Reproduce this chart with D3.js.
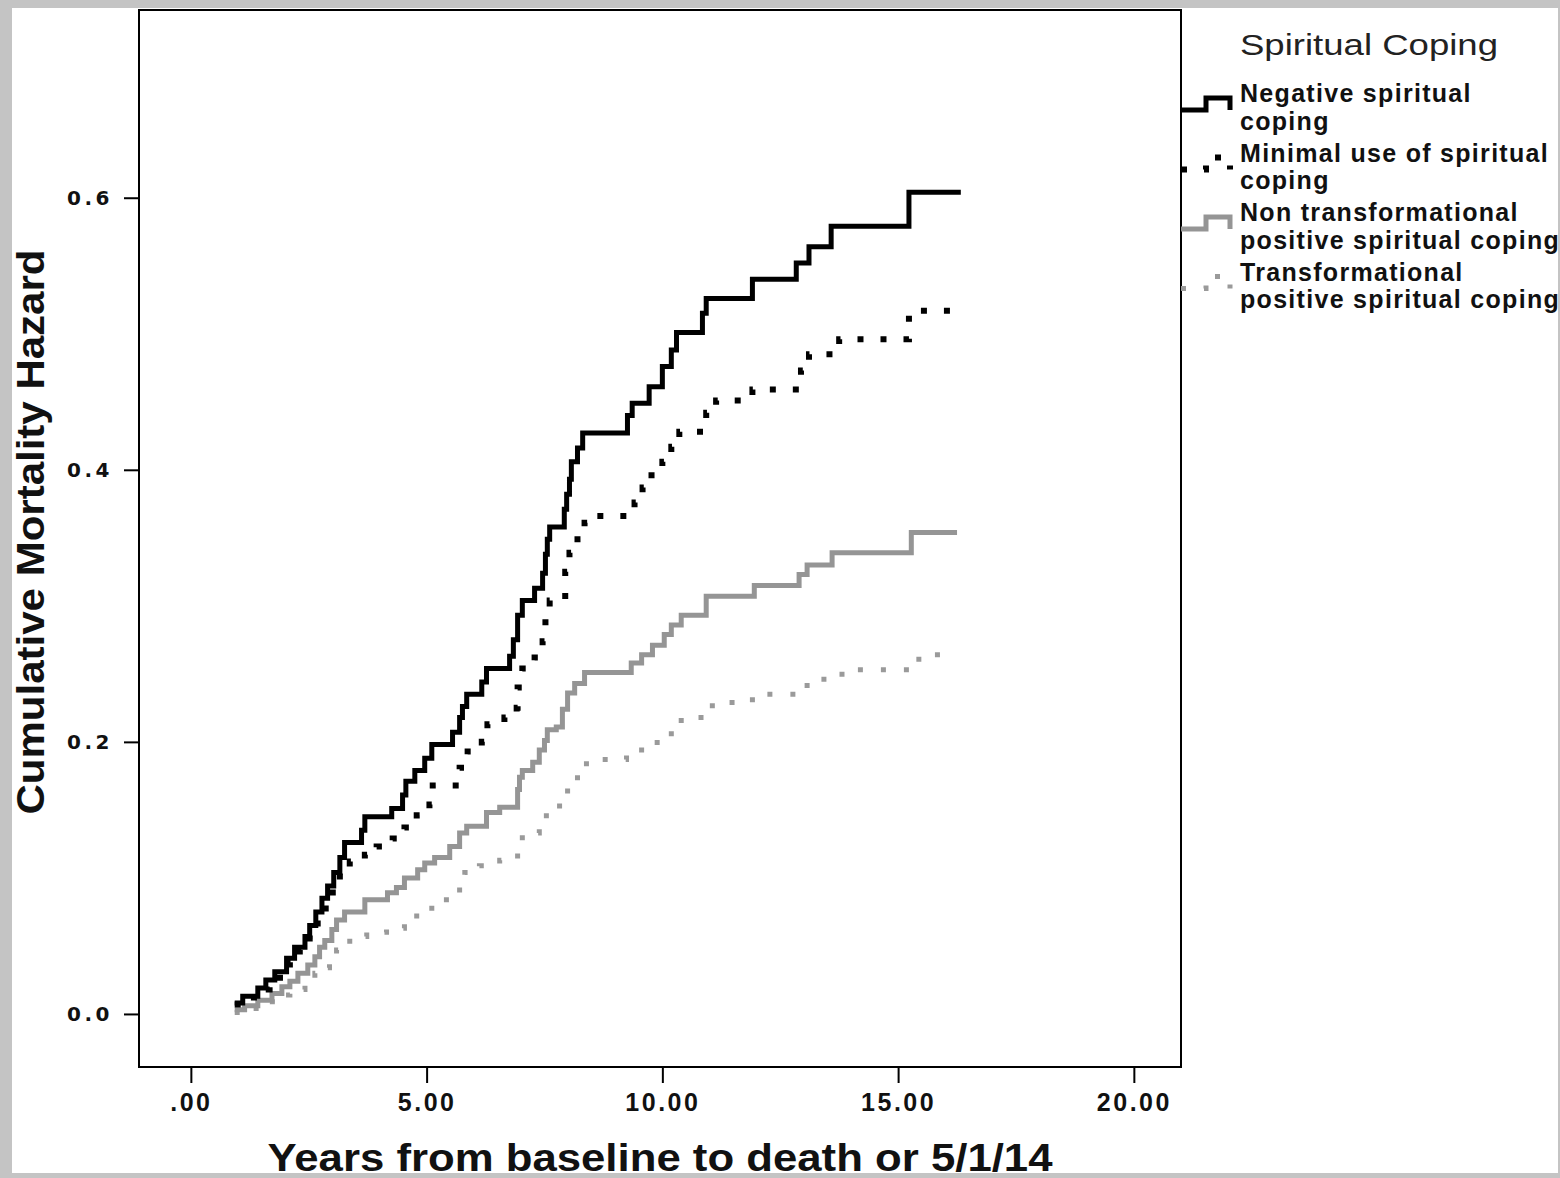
<!DOCTYPE html>
<html>
<head>
<meta charset="utf-8">
<script src="https://cdn.jsdelivr.net/npm/d3@7"></script>
<style>
  body { margin: 0; background: #c4c4c4; }
  svg { display: block; }
</style>
</head>
<body>
<div id="chart"></div>
<script>
// ---------------------------------------------
// ---------          Data             ---------
// ---------------------------------------------

const legendTitle = "Spiritual Coping";
const seriesNames = [
  ["Negative spiritual", "coping"],
  ["Minimal use of spiritual", "coping"],
  ["Non transformational", "positive spiritual coping"],
  ["Transformational", "positive spiritual coping"]
];

// step times (years) and cumulative hazard after each step
const negativeTimes = [0.93, 1.10, 1.42, 1.59, 1.78, 2.03, 2.20, 2.42, 2.52, 2.65, 2.78, 2.90, 3.03, 3.16, 3.26, 3.62, 3.69, 4.26, 4.49, 4.56, 4.75, 4.96, 5.11, 5.55, 5.70, 5.76, 5.85, 6.17, 6.27, 6.76, 6.84, 6.93, 7.03, 7.29, 7.46, 7.52, 7.56, 7.61, 7.92, 7.97, 8.03, 8.07, 8.20, 8.31, 9.26, 9.36, 9.72, 10.00, 10.19, 10.30, 10.85, 10.93, 11.91, 12.84, 13.11, 13.58, 15.23, 16.33];
const negativeValues = [0.008, 0.013, 0.019, 0.025, 0.031, 0.041, 0.049, 0.057, 0.065, 0.075, 0.085, 0.094, 0.104, 0.115, 0.126, 0.135, 0.145, 0.151, 0.161, 0.171, 0.179, 0.188, 0.198, 0.207, 0.218, 0.226, 0.235, 0.244, 0.254, 0.263, 0.275, 0.293, 0.304, 0.313, 0.324, 0.338, 0.349, 0.358, 0.371, 0.382, 0.393, 0.406, 0.416, 0.427, 0.440, 0.449, 0.461, 0.476, 0.488, 0.501, 0.515, 0.526, 0.540, 0.552, 0.564, 0.579, 0.604, 0.604];

const minimalTimes = [0.93, 1.14, 1.42, 1.67, 1.89, 2.10, 2.31, 2.52, 2.69, 2.86, 3.01, 3.16, 3.37, 3.69, 3.94, 4.28, 4.53, 4.79, 5.06, 5.13, 5.70, 5.87, 6.17, 6.29, 6.65, 6.91, 6.93, 7.03, 7.29, 7.46, 7.52, 7.61, 7.94, 8.03, 8.20, 8.35, 8.45, 9.41, 9.58, 9.77, 10.00, 10.19, 10.36, 10.93, 11.14, 11.91, 12.94, 13.11, 13.75, 15.23, 16.25];
const minimalValues = [0.007, 0.012, 0.018, 0.024, 0.031, 0.038, 0.047, 0.058, 0.069, 0.080, 0.095, 0.106, 0.112, 0.117, 0.123, 0.129, 0.137, 0.146, 0.154, 0.168, 0.181, 0.193, 0.200, 0.213, 0.218, 0.225, 0.240, 0.254, 0.262, 0.274, 0.288, 0.304, 0.325, 0.339, 0.349, 0.361, 0.366, 0.376, 0.387, 0.396, 0.406, 0.417, 0.428, 0.442, 0.451, 0.459, 0.473, 0.485, 0.496, 0.517, 0.517];

const nonTransTimes = [0.93, 1.14, 1.42, 1.72, 1.93, 2.10, 2.27, 2.48, 2.63, 2.73, 2.84, 2.99, 3.09, 3.26, 3.69, 4.17, 4.36, 4.53, 4.81, 4.96, 5.17, 5.49, 5.70, 5.85, 6.27, 6.55, 6.93, 6.97, 7.03, 7.25, 7.39, 7.50, 7.56, 7.75, 7.88, 7.99, 8.14, 8.35, 9.34, 9.56, 9.79, 10.04, 10.19, 10.40, 10.93, 11.95, 12.90, 13.07, 13.60, 15.28, 16.25];
const nonTransValues = [0.003, 0.006, 0.010, 0.015, 0.020, 0.024, 0.030, 0.036, 0.042, 0.049, 0.054, 0.062, 0.069, 0.075, 0.084, 0.089, 0.093, 0.100, 0.106, 0.111, 0.115, 0.123, 0.133, 0.138, 0.148, 0.152, 0.165, 0.174, 0.179, 0.185, 0.194, 0.201, 0.209, 0.211, 0.224, 0.236, 0.243, 0.251, 0.258, 0.264, 0.271, 0.279, 0.286, 0.293, 0.307, 0.315, 0.323, 0.330, 0.339, 0.354, 0.354];

const transTimes = [0.93, 1.25, 1.57, 1.84, 2.10, 2.42, 2.63, 2.78, 2.94, 3.09, 3.37, 3.73, 4.15, 4.53, 4.79, 5.11, 5.42, 5.70, 5.81, 6.12, 6.55, 6.93, 7.03, 7.39, 7.54, 7.82, 7.99, 8.20, 8.39, 9.24, 9.56, 9.89, 10.19, 10.40, 11.06, 11.91, 13.07, 13.81, 15.44, 16.04];
const transValues = [0.001, 0.004, 0.009, 0.014, 0.018, 0.023, 0.030, 0.034, 0.040, 0.047, 0.057, 0.060, 0.063, 0.068, 0.074, 0.082, 0.086, 0.093, 0.104, 0.109, 0.113, 0.121, 0.133, 0.138, 0.150, 0.157, 0.167, 0.177, 0.187, 0.192, 0.196, 0.203, 0.209, 0.218, 0.229, 0.235, 0.246, 0.253, 0.264, 0.264];

const xTickValues = [0, 5, 10, 15, 20];
const xTickLabels = [".00", "5.00", "10.00", "15.00", "20.00"];
const yTickValues = [0, 0.2, 0.4, 0.6];
const yTickLabels = ["0.0", "0.2", "0.4", "0.6"];

const xTitle = "Years from baseline to death or 5/1/14";
const yTitle = "Cumulative Mortality Hazard";

// ---------------------------------------------
// ---------    Basic Chart Layout      --------
// ---------------------------------------------

const width = 1560, height = 1178;
const frame = { left: 139, right: 1181, top: 10, bottom: 1067 };

const svg = d3.select("#chart")
  .append("svg")
    .attr("width", width)
    .attr("height", height);

svg.append("rect")
  .attr("width", width).attr("height", height)
  .attr("fill", "#c4c4c4");
svg.append("rect")
  .attr("x", 12).attr("y", 8)
  .attr("width", 1546).attr("height", 1165)
  .attr("fill", "#ffffff");

const x = d3.scaleLinear().domain([-1.1, 21.0]).range([frame.left, frame.right]);
const y = d3.scaleLinear().domain([-0.039, 0.738]).range([frame.bottom, frame.top]);

// X axis
const xAxis = svg.append("g")
  .attr("transform", "translate(0," + frame.bottom + ")")
  .call(d3.axisBottom(x)
    .tickValues(xTickValues)
    .tickSize(16)
    .tickPadding(10)
    .tickFormat((d, i) => xTickLabels[i]));
xAxis.select(".domain").remove();
xAxis.selectAll(".tick line").attr("stroke", "#000").attr("stroke-width", 2);
xAxis.selectAll(".tick text")
  .attr("fill", "#111")
  .attr("font-family", "Liberation Sans, Arial, sans-serif")
  .attr("font-weight", "bold")
  .attr("font-size", 25)
  .attr("letter-spacing", 2.5);

// Y axis
const yAxis = svg.append("g")
  .attr("transform", "translate(" + frame.left + ",0)")
  .call(d3.axisLeft(y)
    .tickValues(yTickValues)
    .tickSize(15)
    .tickPadding(11)
    .tickFormat((d, i) => yTickLabels[i]));
yAxis.select(".domain").remove();
yAxis.selectAll(".tick line").attr("stroke", "#000").attr("stroke-width", 2);
yAxis.selectAll(".tick text")
  .attr("fill", "#111")
  .attr("font-family", "DejaVu Sans, sans-serif")
  .attr("font-weight", "bold")
  .attr("font-size", 20)
  .attr("letter-spacing", 3.5);

// frame
svg.append("rect")
  .attr("x", frame.left).attr("y", frame.top)
  .attr("width", frame.right - frame.left)
  .attr("height", frame.bottom - frame.top)
  .attr("fill", "none")
  .attr("stroke", "#000")
  .attr("stroke-width", 2);

// axis titles
svg.append("text")
  .attr("x", 660).attr("y", 1171)
  .attr("text-anchor", "middle")
  .attr("font-family", "Liberation Sans, Arial, sans-serif")
  .attr("font-weight", "bold")
  .attr("font-size", 38)
  .attr("textLength", 785)
  .attr("lengthAdjust", "spacingAndGlyphs")
  .attr("fill", "#111")
  .text(xTitle);

svg.append("text")
  .attr("transform", "translate(44,532) rotate(-90)")
  .attr("text-anchor", "middle")
  .attr("font-family", "Liberation Sans, Arial, sans-serif")
  .attr("font-weight", "bold")
  .attr("font-size", 38)
  .attr("textLength", 565)
  .attr("lengthAdjust", "spacingAndGlyphs")
  .attr("fill", "#111")
  .text(yTitle);

// ---------------------------------------------
// ---------       Chart Data           --------
// ---------------------------------------------

const styles = [
  { color: "#000000", width: 5, dash: null },
  { color: "#000000", width: 6, dash: "6,17" },
  { color: "#959595", width: 5, dash: null },
  { color: "#9a9a9a", width: 5, dash: "5,18" }
];

const series = [
  d3.zip(negativeTimes, negativeValues),
  d3.zip(minimalTimes, minimalValues),
  d3.zip(nonTransTimes, nonTransValues),
  d3.zip(transTimes, transValues)
];

const line = d3.line()
  .x(d => x(d[0]))
  .y(d => y(d[1]))
  .curve(d3.curveStepAfter);

// draw lighter series first so black stays on top
[3, 2, 1, 0].forEach(i => {
  svg.append("path")
    .datum(series[i])
    .attr("fill", "none")
    .attr("stroke", styles[i].color)
    .attr("stroke-width", styles[i].width)
    .attr("stroke-dasharray", styles[i].dash)
    .attr("d", line);
});

// ---------------------------------------------
// ---------          Legend            --------
// ---------------------------------------------

svg.append("text")
  .attr("x", 1240).attr("y", 55)
  .attr("font-family", "Liberation Sans, Arial, sans-serif")
  .attr("font-size", 30)
  .attr("textLength", 258)
  .attr("lengthAdjust", "spacingAndGlyphs")
  .attr("fill", "#222")
  .text(legendTitle);

const legend = svg.selectAll(".legend")
  .data(seriesNames)
  .enter()
  .append("g")
    .attr("class", "legend")
    .attr("transform", (d, i) => "translate(0," + (i * 59.5) + ")");

legend.append("path")
  .attr("d", "M1181,110 H1206 V98 H1230 V110")
  .attr("fill", "none")
  .attr("stroke", (d, i) => styles[i].color)
  .attr("stroke-width", (d, i) => styles[i].width)
  .attr("stroke-dasharray", (d, i) => styles[i].dash);

legend.each(function(d) {
  const t = d3.select(this).append("text")
    .attr("font-family", "Liberation Sans, Arial, sans-serif")
    .attr("font-weight", "bold")
    .attr("font-size", 25)
    .attr("letter-spacing", 1.3)
    .attr("fill", "#111");
  d.forEach((s, k) => {
    t.append("tspan")
      .attr("x", 1240)
      .attr("y", 102 + k * 27.5)
      .text(s);
  });
});
</script>
</body>
</html>
